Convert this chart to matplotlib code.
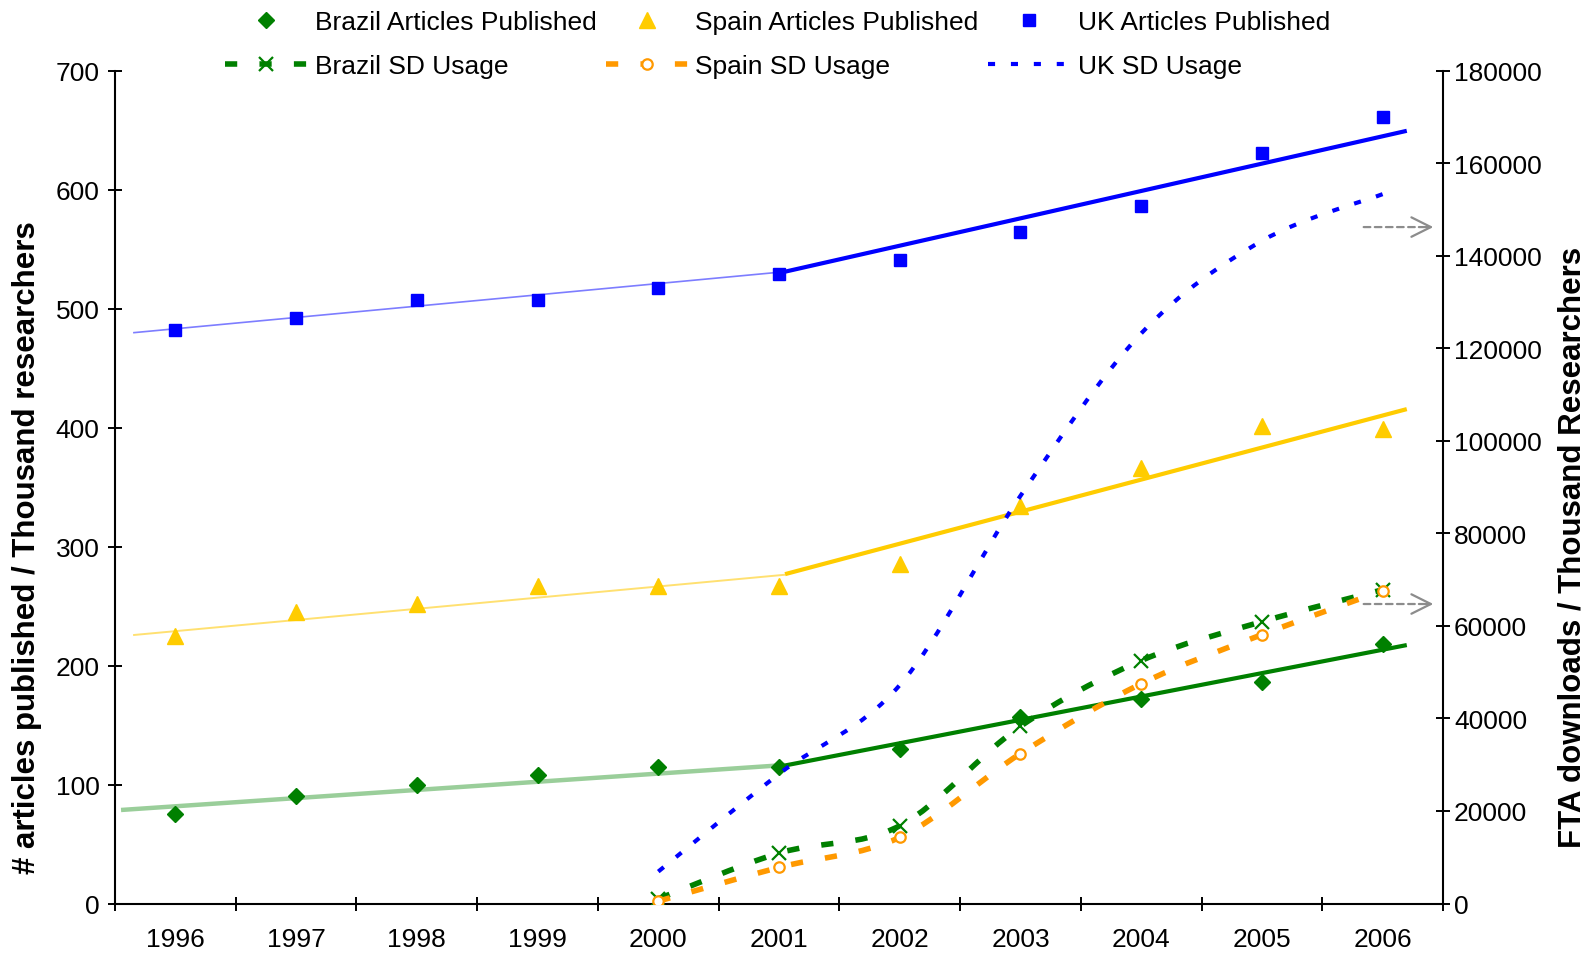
import numpy as np
import matplotlib
matplotlib.use("Agg")
import matplotlib.pyplot as plt
from matplotlib.path import Path
from matplotlib.patches import PathPatch
from matplotlib.lines import Line2D

plt.rcParams["font.family"] = ["Liberation Sans", "DejaVu Sans"]

# ---------------------------------------------------------------- data
years = ["1996", "1997", "1998", "1999", "2000", "2001",
         "2002", "2003", "2004", "2005", "2006"]
brazil_articles = [75, 90, 100, 108, 115, 115, 130, 157, 172, 186, 218]
spain_articles = [225, 245, 252, 267, 267, 267, 285, 334, 366, 401, 399]
uk_articles = [482, 492, 507, 507, 517, 529, 541, 564, 586, 631, 661]

sd_years = ["2000", "2001", "2002", "2003", "2004", "2005", "2006"]
brazil_sd = [1000, 10900, 16800, 38300, 52500, 60900, 67800]
spain_sd = [500, 7800, 14300, 32400, 47500, 58100, 67600]
uk_sd = [6900, 28000, 47200, 88100, 123200, 143200, 153300]

# trend lines: (x start, x end) in category units, (value start, value end)
brazil_trend_early = ((-0.45, 5.05), (78.6, 116.4))
brazil_trend_late = ((5.05, 10.2), (116.0, 217.2))
spain_trend_early = ((-0.35, 5.05), (225.6, 276.3))
spain_trend_late = ((5.05, 10.2), (276.8, 415.5))
uk_trend_early = ((-0.35, 5.05), (479.7, 531.0))
uk_trend_late = ((5.05, 10.2), (531.0, 649.4))

GREEN, GOLD, BLUE, ORANGE = "#008000", "#ffcc00", "#0000ff", "#ff9900"
FS = 19
DASH = (0, (2.2, 4.0))
DOT = (0, (1.7, 3.8))


def smooth_path(xs, ys):
    """Excel-like smoothed line: cubic Bezier segments through the points."""
    p = np.column_stack([xs, ys]).astype(float)
    verts, codes = [p[0]], [Path.MOVETO]
    n = len(p)
    for i in range(n - 1):
        p0 = p[i - 1] if i > 0 else p[i]
        p3 = p[i + 2] if i + 2 < n else p[i + 1]
        verts += [p[i] + (p[i + 1] - p0) / 6, p[i + 1] - (p3 - p[i]) / 6, p[i + 1]]
        codes += [Path.CURVE4] * 3
    return Path(verts, codes)


fig = plt.figure(figsize=(15.88, 9.54), dpi=100)
ax = fig.add_axes([115 / 1588, 1 - 904.5 / 954, 1328 / 1588, 832.9 / 954])
ax2 = ax.twinx()

x = np.arange(len(years))
xs = np.array([years.index(y) for y in sd_years])

# trend lines
for (tx, ty), col, lw, a in [
        (brazil_trend_early, "#8fc98f", 3.2, 0.9),
        (spain_trend_early, "#ffd94d", 1.4, 0.8),
        (uk_trend_early, "#6f6fff", 1.2, 0.9),
        (brazil_trend_late, GREEN, 3.0, 1),
        (spain_trend_late, GOLD, 3.0, 1),
        (uk_trend_late, BLUE, 3.0, 1)]:
    ax.plot(tx, ty, color=col, lw=lw, alpha=a, solid_capstyle="butt")

ax.plot(x, brazil_articles, ls="none", marker="D", ms=8, color=GREEN, mec=GREEN)
ax.plot(x, spain_articles, ls="none", marker="^", ms=11, color=GOLD, mec=GOLD)
ax.plot(x, uk_articles, ls="none", marker="s", ms=8.5, color=BLUE, mec=BLUE)

# SD usage on the right axis
sd_style = [
    (brazil_sd, GREEN, 4.0, DASH, "x", dict(ms=9.5, mew=1.6, mfc=GREEN)),
    (spain_sd, ORANGE, 4.0, DASH, "o", dict(ms=7.5, mew=1.6, mfc="white")),
    (uk_sd, BLUE, 3.0, DOT, None, {}),
]
for vals, col, lw, ls, mk, kw in sd_style:
    ax2.add_patch(PathPatch(smooth_path(xs, vals), fill=False, edgecolor=col,
                            lw=lw, linestyle=ls, capstyle="butt"))
    if mk:
        ax2.plot(xs, vals, ls="none", marker=mk, color=col, mec=col, **kw)

# arrows pointing at the right axis
for yv in (568.5, 251.7):
    ax.annotate("", xy=(10.3, yv), xytext=(9.82, yv),
                arrowprops=dict(arrowstyle="-", color="#8c8c8c", lw=1.6, ls=(0, (3, 2))))
    ax.annotate("", xy=(10.42, yv), xytext=(10.3, yv),
                arrowprops=dict(arrowstyle="->,head_length=1.4,head_width=0.7",
                                color="#8c8c8c", lw=1.6, shrinkA=0, shrinkB=0))

# axes
ax.set_xlim(-0.5, 10.5)
ax.set_ylim(0, 700)
ax2.set_ylim(0, 180000)
ax.set_yticks(range(0, 701, 100))
ax2.set_yticks(range(0, 180001, 20000))
ax.set_xticks(np.arange(-0.5, 11, 1))
ax.set_xticklabels([])
ax.set_xticks(x, minor=True)
ax.set_xticklabels(years, minor=True)
for a in (ax, ax2):
    a.spines["top"].set_visible(False)
    for s in a.spines.values():
        s.set_linewidth(1.5)
ax.spines["right"].set_visible(False)
ax2.spines["left"].set_visible(False)
ax2.spines["bottom"].set_visible(False)
ax.tick_params(axis="both", which="major", direction="inout", length=10, width=1.4,
               labelsize=FS, pad=6)
ax.tick_params(axis="x", which="minor", length=0, labelsize=FS, pad=17)
ax2.tick_params(axis="y", direction="inout", length=10, width=1.4, labelsize=FS, pad=3)

ax.set_ylabel("# articles published / Thousand researchers", fontsize=22.5,
              fontweight="bold", va="center")
ax.yaxis.set_label_coords(-0.0663, 0.429)
ax2.set_ylabel("FTA downloads / Thousand Researchers", fontsize=22.5,
               fontweight="bold", rotation=90, va="center")
ax2.yaxis.set_label_coords(1.0975, 0.429)

handles = [
    Line2D([], [], ls="none", marker="D", ms=8, color=GREEN),
    Line2D([], [], color=GREEN, lw=4.0, ls=DASH, marker="x", ms=9.5, mew=1.6),
    Line2D([], [], ls="none", marker="^", ms=11, color=GOLD),
    Line2D([], [], color=ORANGE, lw=4.0, ls=DASH, marker="o", ms=7.5, mew=1.6,
           mfc="white"),
    Line2D([], [], ls="none", marker="s", ms=8.5, color=BLUE),
    Line2D([], [], color=BLUE, lw=3.0, ls=DOT),
]
labels = ["Brazil Articles Published", "Brazil SD Usage",
          "Spain Articles Published", "Spain SD Usage",
          "UK Articles Published", "UK SD Usage"]
fig.legend(handles, labels, ncol=3, loc="upper left",
           bbox_to_anchor=(225 / 1588, 1 - 11 / 954),
           frameon=False, fontsize=FS, handlelength=3.1, handletextpad=0.3,
           columnspacing=0.35, labelspacing=0.75, borderaxespad=0.0, borderpad=0.0)

fig.savefig("out.png", dpi=100)
